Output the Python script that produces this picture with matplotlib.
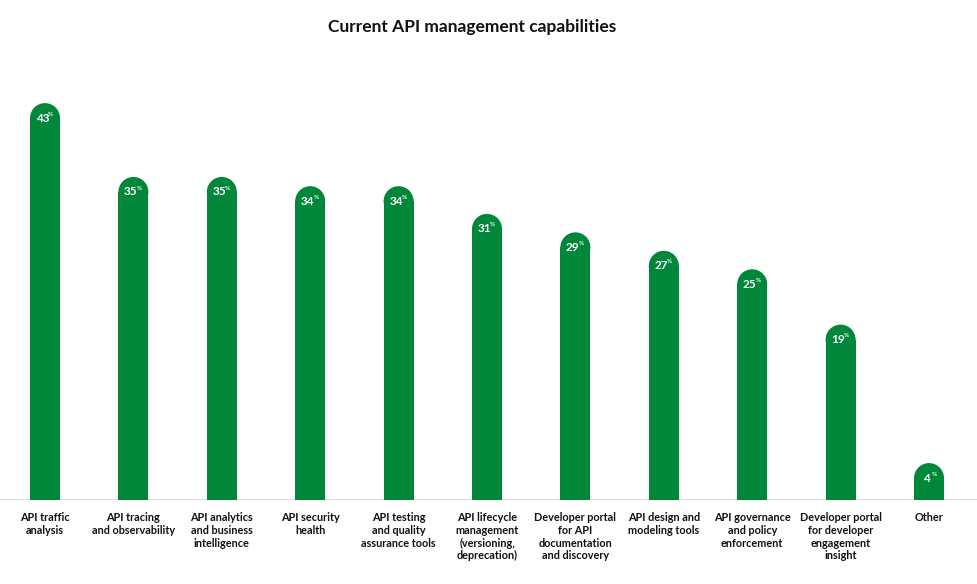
import numpy as np
import matplotlib.pyplot as plt
from matplotlib.patches import Ellipse, Rectangle

plt.rcParams['font.family'] = ['Lato', 'DejaVu Sans']

categories = [
    "API traffic\nanalysis",
    "API tracing\nand observability",
    "API analytics\nand business\nintelligence",
    "API security\nhealth",
    "API testing\nand quality\nassurance tools",
    "API lifecycle\nmanagement\n(versioning,\ndeprecation)",
    "Developer portal\nfor API\ndocumentation\nand discovery",
    "API design and\nmodeling tools",
    "API governance\nand policy\nenforcement",
    "Developer portal\nfor developer\nengagement\ninsight",
    "Other",
]
values = [43, 35, 35, 34, 34, 31, 29, 27, 25, 19, 4]

green = '#00873a'
W, H = 977, 584
fig = plt.figure(figsize=(W / 100, H / 100), dpi=100)

# axes placed so the baseline sits at y=500px from top
ymax = 45
px_per_unit = 9.23
ax_h = ymax * px_per_unit
ax = fig.add_axes([0, 84 / H, 1, ax_h / H])
step = 88.4
ax.set_xlim(-45 / step, 10 + 48 / step)
ax.set_ylim(0, ymax)
ax.axis('off')

bw = 30 / step
r = 15 / px_per_unit  # radius of round cap in data units
idx = np.arange(len(values))
for i, v in zip(idx, values):
    ax.add_patch(Rectangle((i - bw / 2, 0), bw, v - r, color=green, lw=0))
    ax.add_patch(Ellipse((i, v - r), bw, 2 * r, color=green, lw=0))
    ax.text(i - 0.03, v - r, str(v), color='white', fontsize=8.5, fontweight='bold',
            ha='center', va='center')
    ax.annotate('%', (i - 0.03, v - r), xytext=(6, 1), textcoords='offset points',
                color='white', fontsize=4.5, fontweight='bold', ha='center', va='bottom')
    ax.text(i, -1.3, categories[i], ha='center', va='top', fontsize=7.8,
            fontweight='bold', color='#111111', linespacing=1.2)

ax.axhline(0, color='#dddddd', lw=2, zorder=0)

fig.text(472 / W, 1 - 27 / H, 'Current API management capabilities', ha='center',
         va='center', fontsize=12.5, fontweight='bold', color='#111111')

fig.savefig('out.png', dpi=100)
